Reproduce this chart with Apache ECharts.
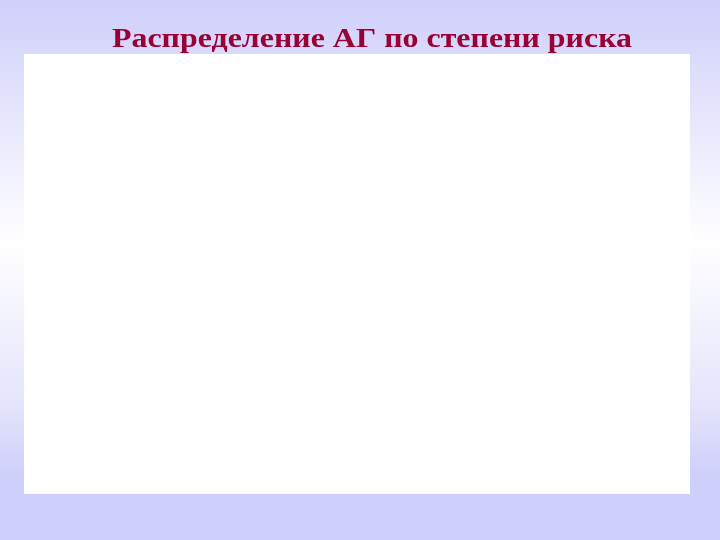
<!DOCTYPE html>
<html>
<head>
<meta charset="utf-8">
<script src="https://cdn.jsdelivr.net/npm/echarts@6/dist/echarts.min.js"></script>
<style>
  html, body { margin: 0; padding: 0; }
  #main { width: 720px; height: 540px; }
</style>
</head>
<body>
<div id="main"></div>
<script>
// the chart area in the source is blank: no categories or values are shown
var categories = [];
var values = [];
var titleText = "Распределение АГ по степени риска";

var myChart = echarts.init(document.getElementById("main"));
var option = {
  backgroundColor: new echarts.graphic.LinearGradient(0, 0, 0, 1, [
    { offset: 0, color: "#cfcffb" },
    { offset: 0.45, color: "#ffffff" },
    { offset: 0.75, color: "#e4e4fc" },
    { offset: 0.88, color: "#cfcffb" },
    { offset: 1, color: "#cfcffb" },
  ]),
  graphic: [
    {
      type: "rect",
      shape: { x: 24, y: 54, width: 666, height: 440 },
      style: { fill: "#ffffff" },
      z: -1,
    },
    {
      // the slide title is stretched horizontally in the source
      type: "text",
      x: 372,
      y: 40,
      scaleX: 1.14,
      style: {
        text: titleText,
        fill: "#990033",
        font: "bold 28px 'Liberation Serif'",
        textAlign: "center",
        textVerticalAlign: "middle",
      },
    },
  ],
  grid: { left: 24, top: 54, width: 666, height: 440 },
  xAxis: { type: "category", data: categories, show: false },
  yAxis: { type: "value", show: false },
  series: [{ type: "bar", data: values }],
};
myChart.setOption(option);
</script>
</body>
</html>
